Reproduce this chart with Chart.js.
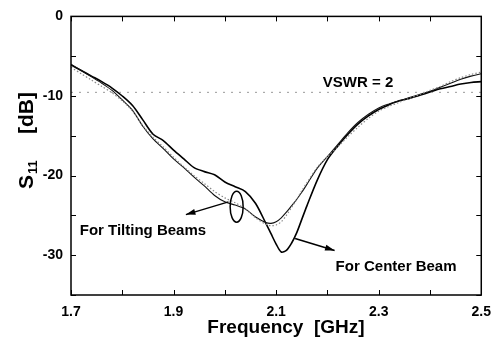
<!DOCTYPE html>
<html>

<head>
    <meta charset="UTF-8">
    <title>S11 vs frequency</title>
    <script src="https://cdn.jsdelivr.net/npm/chart.js@4.4.1/dist/chart.umd.min.js"></script>
    <style>
        body { margin: 0; background: #fff; }
    </style>
</head>

<body>
    <canvas id="s11-chart" width="500" height="349"></canvas>
</body>

<script>
    // frequency points (GHz), shared by the three measured curves
    var freq = [1.70, 1.72, 1.74, 1.76, 1.78, 1.80, 1.82, 1.84, 1.86, 1.88, 1.90, 1.92, 1.94, 1.96, 1.98,
        2.00, 2.02, 2.04, 2.06, 2.08, 2.09, 2.10, 2.11, 2.12, 2.13, 2.14, 2.15, 2.16, 2.18, 2.20,
        2.22, 2.24, 2.26, 2.28, 2.30, 2.32, 2.34, 2.36, 2.38, 2.40, 2.42, 2.44, 2.46, 2.48, 2.50];

    // S11 in dB
    var centerBeam = [-6.1, -6.8, -7.5, -8.2, -9.0, -10.0, -11.2, -13.0, -14.8, -15.6, -16.8, -17.9, -19.0, -19.5, -19.9,
        -20.8, -21.4, -22.0, -23.5, -26.0, -27.3, -28.6, -29.6, -29.4, -28.5, -27.2, -25.5, -23.8, -20.6, -18.0,
        -16.3, -14.8, -13.5, -12.5, -11.7, -11.1, -10.6, -10.3, -9.9, -9.5, -9.1, -8.8, -8.5, -8.3, -8.2];

    var tiltBeamA = [-6.0, -6.8, -7.6, -8.4, -9.3, -10.5, -11.8, -13.8, -15.4, -16.6, -17.9, -19.0, -20.2, -21.3, -22.5,
        -23.3, -23.7, -24.2, -25.2, -25.9, -26.0, -25.8, -25.3, -24.6, -23.8, -23.0, -22.1, -21.1, -19.1, -17.6,
        -16.1, -14.6, -13.3, -12.3, -11.5, -11.0, -10.6, -10.2, -9.8, -9.4, -8.9, -8.4, -7.9, -7.5, -7.2];

    var tiltBeamB = [-6.4, -7.2, -8.0, -8.8, -9.6, -10.6, -11.9, -13.7, -15.2, -16.4, -17.7, -18.9, -20.0, -21.0, -22.0,
        -22.8, -23.4, -24.2, -25.3, -26.1, -26.3, -26.2, -25.8, -25.0, -24.0, -23.0, -21.9, -20.9, -19.0, -17.6,
        -16.4, -15.1, -13.9, -12.8, -11.9, -11.3, -10.8, -10.3, -9.8, -9.3, -8.8, -8.2, -7.7, -7.3, -7.0];

    // VSWR = 2 reference level
    var vswrFreq = [1.7, 2.5];
    var vswrLevel = [-9.54, -9.54];

    var xTicks = ['1.7', '1.9', '2.1', '2.3', '2.5'];
    var yTicks = ['0', '-10', '-20', '-30'];

    var FONT = '"Liberation Sans", Arial, sans-serif';

    function pts(xs, ys) {
        return xs.map(function (x, i) { return { x: x, y: ys[i] }; });
    }

    function arrow(ctx, x1, y1, x2, y2) {
        var a = Math.atan2(y2 - y1, x2 - x1);
        ctx.beginPath();
        ctx.moveTo(x1, y1);
        ctx.lineTo(x2, y2);
        ctx.stroke();
        ctx.beginPath();
        ctx.moveTo(x2, y2);
        ctx.lineTo(x2 - 10 * Math.cos(a - 0.3), y2 - 10 * Math.sin(a - 0.3));
        ctx.lineTo(x2 - 10 * Math.cos(a + 0.3), y2 - 10 * Math.sin(a + 0.3));
        ctx.closePath();
        ctx.fill();
    }

    var frame = {
        id: 'frame',
        afterDraw: function (chart) {
            var ctx = chart.ctx, a = chart.chartArea;
            var xs = chart.scales.x, ys = chart.scales.y;
            ctx.save();
            ctx.strokeStyle = '#000';
            ctx.fillStyle = '#000';
            ctx.lineWidth = 1.5;
            ctx.strokeRect(a.left, a.top, a.right - a.left, a.bottom - a.top);

            // inward ticks on all sides
            ctx.lineWidth = 1;
            ctx.beginPath();
            xs.ticks.forEach(function (t) {
                var px = Math.round(xs.getPixelForValue(t.value)) + 0.5;
                ctx.moveTo(px, a.bottom); ctx.lineTo(px, a.bottom - 5);
                ctx.moveTo(px, a.top); ctx.lineTo(px, a.top + 5);
            });
            ys.ticks.forEach(function (t) {
                var py = Math.round(ys.getPixelForValue(t.value)) + 0.5;
                ctx.moveTo(a.left, py); ctx.lineTo(a.left + 5, py);
                ctx.moveTo(a.right, py); ctx.lineTo(a.right - 5, py);
            });
            ctx.stroke();

            // axis titles
            ctx.font = 'bold 19px ' + FONT;
            ctx.textAlign = 'center';
            ctx.textBaseline = 'middle';
            ctx.fillText('Frequency  [GHz]', 286, 328);

            ctx.save();
            ctx.translate(26, 0);
            ctx.rotate(-Math.PI / 2);
            ctx.textAlign = 'left';
            ctx.textBaseline = 'alphabetic';
            ctx.font = 'bold 21px ' + FONT;
            ctx.fillText('S', -189, 7);
            ctx.font = 'bold 13px ' + FONT;
            ctx.fillText('11', -174, 11);
            ctx.font = 'bold 21px ' + FONT;
            ctx.fillText('[dB]', -134, 7);
            ctx.restore();

            // annotations
            ctx.font = 'bold 15px ' + FONT;
            ctx.textAlign = 'left';
            ctx.fillText('VSWR = 2', xs.getPixelForValue(2.191), ys.getPixelForValue(-8.3));
            ctx.fillText('For Tilting Beams', xs.getPixelForValue(1.717), ys.getPixelForValue(-27.0));
            ctx.fillText('For Center Beam', xs.getPixelForValue(2.216), ys.getPixelForValue(-31.5));

            ctx.lineWidth = 1.5;
            arrow(ctx, xs.getPixelForValue(2.007), ys.getPixelForValue(-23.3),
                xs.getPixelForValue(1.924), ys.getPixelForValue(-24.9));
            arrow(ctx, xs.getPixelForValue(2.137), ys.getPixelForValue(-27.9),
                xs.getPixelForValue(2.214), ys.getPixelForValue(-29.4));

            ctx.beginPath();
            ctx.ellipse(xs.getPixelForValue(2.023), ys.getPixelForValue(-23.9), 6.5, 15.5, 0, 0, Math.PI * 2);
            ctx.stroke();
            ctx.restore();
        }
    };

    var chart = new Chart(document.getElementById('s11-chart'), {
        type: 'line',
        data: {
            datasets: [{
                label: 'VSWR = 2',
                data: pts(vswrFreq, vswrLevel),
                borderColor: '#999',
                borderWidth: 1,
                borderDash: [2, 6],
                pointRadius: 0
            }, {
                label: 'Tilting beam (dotted)',
                data: pts(freq, tiltBeamB),
                borderColor: '#888',
                borderWidth: 1.2,
                borderDash: [1.5, 2],
                pointRadius: 0,
                tension: 0.3
            }, {
                label: 'Tilting beam',
                data: pts(freq, tiltBeamA),
                borderColor: '#111',
                borderWidth: 1.1,
                pointRadius: 0,
                tension: 0.3
            }, {
                label: 'Center beam',
                data: pts(freq, centerBeam),
                borderColor: '#000',
                borderWidth: 1.6,
                pointRadius: 0,
                tension: 0.3
            }]
        },
        options: {
            responsive: false,
            animation: false,
            layout: { padding: { top: 9, right: 15, left: 0, bottom: 0 } },
            plugins: {
                legend: { display: false },
                tooltip: { enabled: false }
            },
            scales: {
                x: {
                    type: 'linear',
                    min: 1.7,
                    max: 2.5,
                    grid: { display: false, drawTicks: false },
                    border: { display: false },
                    afterFit: function (s) { s.height = 54; },
                    ticks: {
                        stepSize: 0.1,
                        autoSkip: false,
                        maxRotation: 0,
                        padding: 9,
                        color: '#000',
                        font: { family: FONT, size: 14, weight: 'bold' },
                        callback: function (v) {
                            var k = Math.round(v * 10);
                            return k % 2 === 1 ? xTicks[(k - 17) / 2] : '';
                        }
                    }
                },
                y: {
                    min: -35,
                    max: 0,
                    grid: { display: false, drawTicks: false },
                    border: { display: false },
                    afterFit: function (s) { s.width = 71; },
                    ticks: {
                        stepSize: 5,
                        padding: 8,
                        color: '#000',
                        font: { family: FONT, size: 14, weight: 'bold' },
                        callback: function (v) {
                            var k = Math.round(v);
                            return k % 10 === 0 ? yTicks[-k / 10] : '';
                        }
                    }
                }
            }
        },
        plugins: [frame]
    });
</script>

</html>
